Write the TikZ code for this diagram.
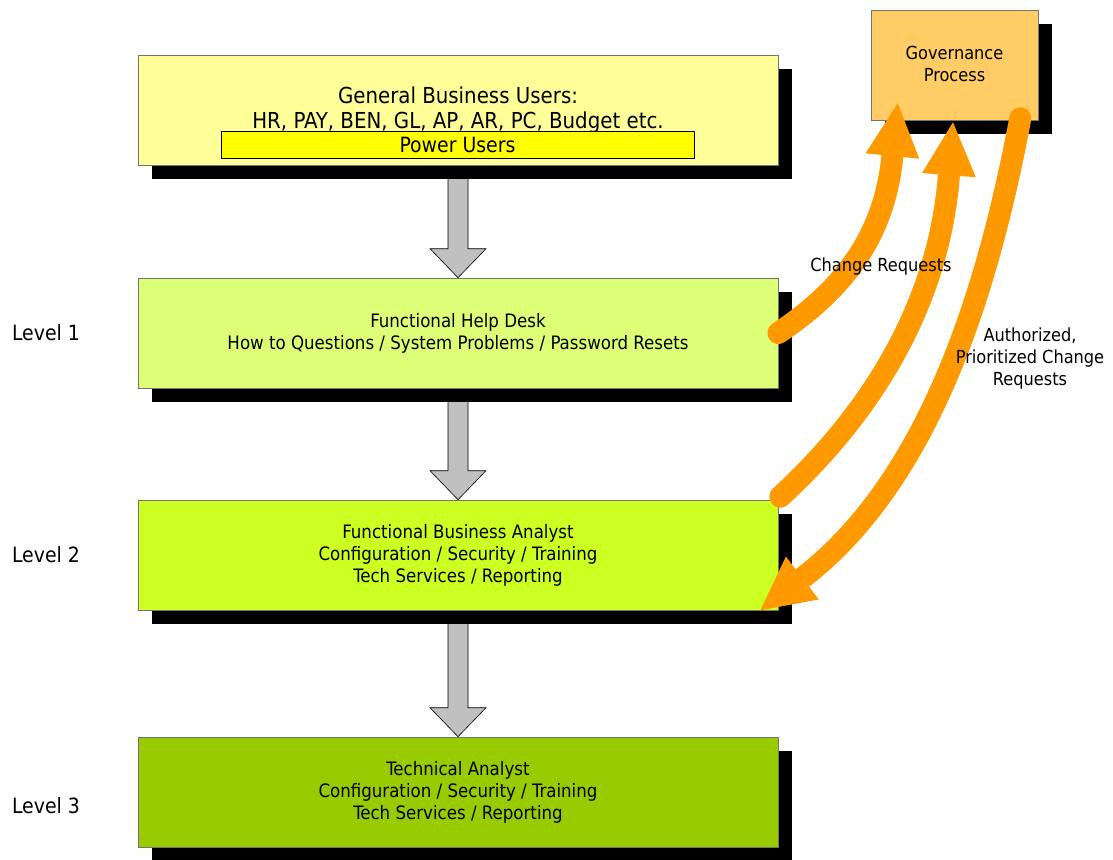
\documentclass[tikz,border=0pt]{standalone}
\usepackage{fontspec}
\setmainfont{DejaVu Sans Condensed}
\usetikzlibrary{arrows.meta,shadows,calc}
\pgfdeclarelayer{background}
\pgfsetlayers{background,main}
\definecolor{topfill}{HTML}{FFFF99}
\definecolor{lonefill}{HTML}{DDFF77}
\definecolor{ltwofill}{HTML}{CCFF22}
\definecolor{lthreefill}{HTML}{99CC00}
\definecolor{govfill}{HTML}{FFCC66}
\definecolor{orangec}{HTML}{FF9900}
\definecolor{arrowgray}{HTML}{C0C0C0}
\definecolor{poweryellow}{HTML}{FFFF00}
\begin{document}
\begin{tikzpicture}[x=1pt,y=-1pt,
  sbox/.style={draw=black!55, line width=0.6pt, inner sep=0pt, align=center,
    drop shadow={shadow xshift=14pt, shadow yshift=-14pt, fill=black, opacity=1},
    font=\fontsize{18.5}{22}\selectfont},
  levelbox/.style={sbox, minimum width=640pt, minimum height=110pt},
  lbl/.style={font=\fontsize{21}{22}\selectfont, inner sep=0pt},
  small/.style={font=\fontsize{18}{22}\selectfont, inner sep=0pt, align=center},
  grayarr/.style={fill=arrowgray, draw=black, line width=0.6pt},
  oarr/.style={draw=orangec, line width=22pt, line cap=round,
    -{Triangle[length=53pt,width=54pt,line width=0pt]}}]
\useasboundingbox (0,0) rectangle (1113,859);

\node[levelbox, fill=topfill] (top) at (458,110) {};
\node[font=\fontsize{22}{25}\selectfont, align=center, inner sep=0pt] (toptext) at (458,110)
  {General Business Users:\\HR, PAY, BEN, GL, AP, AR, PC, Budget etc.};
\node[draw=black, line width=0.6pt, fill=poweryellow, minimum width=473pt, minimum height=27pt,
  inner sep=0pt, font=\fontsize{21}{22}\selectfont] (power) at (457.5,144.5) {Power Users};

\node[levelbox, fill=lonefill] (l1) at (458,333)
  {Functional Help Desk\\How to Questions / System Problems / Password Resets};
\node[levelbox, fill=ltwofill] (l2) at (458,555)
  {Functional Business Analyst\\Configuration / Security / Training\\Tech Services / Reporting};
\node[levelbox, fill=lthreefill] (l3) at (458,792)
  {Technical Analyst\\Configuration / Security / Training\\Tech Services / Reporting};

\node[sbox, fill=govfill, minimum width=167pt, minimum height=110pt] (gov) at (954.5,65) {};
\node[font=\fontsize{18}{22}\selectfont, align=center, inner sep=0pt] (govtext) at (954.5,64)
  {Governance\\Process};

\node[lbl] (lv1) at (46,333) {Level 1};
\node[lbl] (lv2) at (46,555) {Level 2};
\node[lbl] (lv3) at (46,806) {Level 3};

\begin{pgfonlayer}{background}
\foreach \a/\b in {top/l1, l1/l2, l2/l3}{
  \draw[grayarr] let \p1=(\a.south), \p2=(\b.north) in
    (\x1-10pt,\y1) -- (\x1-10pt,\y2+29pt) -- (\x1-28pt,\y2+29pt) -- (\x1,\y2)
    -- (\x1+28pt,\y2+29pt) -- (\x1+10pt,\y2+29pt) -- (\x1+10pt,\y1) -- cycle;
}
\end{pgfonlayer}

\coordinate (a1end) at ($(gov.south west)+(27,-17)$);
\coordinate (a2start) at ($(l2.north east)+(2,-3)$);
\coordinate (a2end) at ($(gov.south)+(-1.5,2)$);
\coordinate (a3start) at ($(gov.south east)+(-18,-2)$);
\coordinate (a3end) at ($(l2.south east)+(-18,0)$);

\draw[oarr] (l1.east) .. controls (850,285) and (885,230) .. (a1end);
\draw[oarr] (a2start) .. controls (885,400) and (940,290) .. (a2end);
\draw[oarr] (a3start) .. controls (988,290) and (930,480) .. (a3end);

\node[small] (cr) at (881,267) {Change Requests};
\node[small] (auth) at (1030,359) {Authorized,\\Prioritized Change\\Requests};
\end{tikzpicture}
\end{document}
